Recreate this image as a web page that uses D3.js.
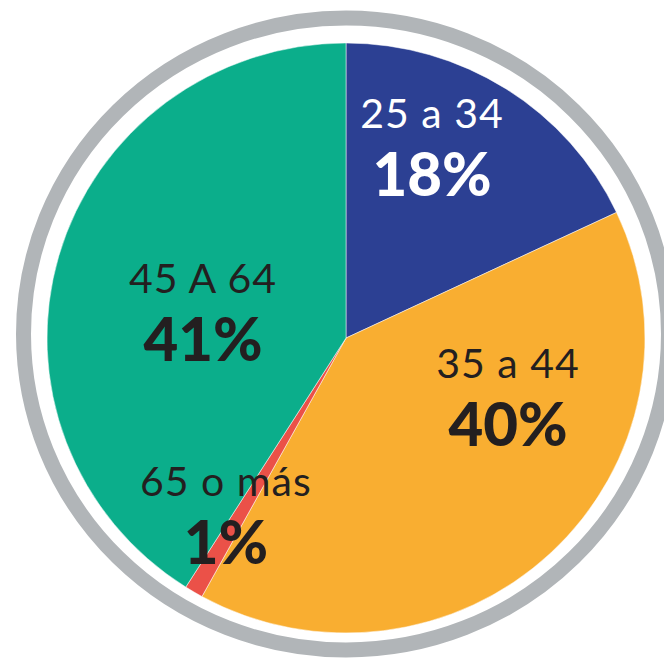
<!DOCTYPE html>
<html>
<head>
<meta charset="utf-8">
<script src="https://cdn.jsdelivr.net/npm/d3@7"></script>
<style>
  html, body { margin: 0; padding: 0; background: #ffffff; }
  svg { display: block; }
  text { font-family: "Lato", "DejaVu Sans", sans-serif; }
</style>
</head>
<body>
<svg id="chart" width="664" height="668"></svg>
<script>
// Age groups and their share of the total (%), clockwise from 12 o'clock
const ageGroups = ["25 a 34", "35 a 44", "65 o más", "45 A 64"];
const shares = [18, 40, 1, 41];
const sliceColors = ["#2c4093", "#f9ae31", "#eb5148", "#0bae8b"];
const labelColors = ["#ffffff", "#231f20", "#231f20", "#231f20"];

const svg = d3.select("#chart");

// Pie geometry
const cx = 346, cy = 338;
const rx = 299, ry = 295;

// Grey outer ring
svg.append("ellipse")
  .attr("cx", 346).attr("cy", 334)
  .attr("rx", 322.5).attr("ry", 316)
  .attr("fill", "none")
  .attr("stroke", "#b1b5b8")
  .attr("stroke-width", 15);

const data = ageGroups.map((g, i) => ({ group: g, value: shares[i], i }));
const pie = d3.pie().sort(null).value(d => d.value);
const arcs = pie(data);
const arc = d3.arc().innerRadius(0).outerRadius(rx);

const slices = svg.append("g")
  .attr("transform", `translate(${cx},${cy}) scale(1,${ry / rx})`);

slices.selectAll("path")
  .data(arcs)
  .join("path")
  .attr("d", arc)
  .attr("fill", d => sliceColors[d.data.i])
  .attr("stroke", "#ffffff")
  .attr("stroke-width", 0.5);

// Space between the name line and the percentage line
const lineGap = 68;

// Label anchors (name baseline centre, relative to the pie centre)
const labelLayout = {
  "25 a 34": { dx: 86, dy: -210 },
  "35 a 44": { dx: 162, dy: 40 },
  "45 A 64": { dx: -143, dy: -45 }
};

// The thin slice gets its label placed along its own mid-angle
function anchorFor(d) {
  const key = d.data.group;
  if (labelLayout[key]) return labelLayout[key];
  const mid = (d.startAngle + d.endAngle) / 2;
  const r = 236;
  const px = r * Math.sin(mid);
  const py = -r * Math.cos(mid) * (ry / rx);
  return { dx: px, dy: py - 42 };
}

const labels = svg.append("g").attr("transform", `translate(${cx},${cy})`);

arcs.forEach(d => {
  const a = anchorFor(d);
  const color = labelColors[d.data.i];
  labels.append("text")
    .attr("x", a.dx).attr("y", a.dy)
    .attr("text-anchor", "middle")
    .attr("fill", color)
    .attr("font-size", 41)
    .attr("font-weight", 400)
    .attr("letter-spacing", 1)
    .text(d.data.group);
  labels.append("text")
    .attr("x", a.dx).attr("y", a.dy + lineGap)
    .attr("text-anchor", "middle")
    .attr("fill", color)
    .attr("font-size", 60)
    .attr("font-weight", 900)
    .text(d.data.value + "%");
});
</script>
</body>
</html>
